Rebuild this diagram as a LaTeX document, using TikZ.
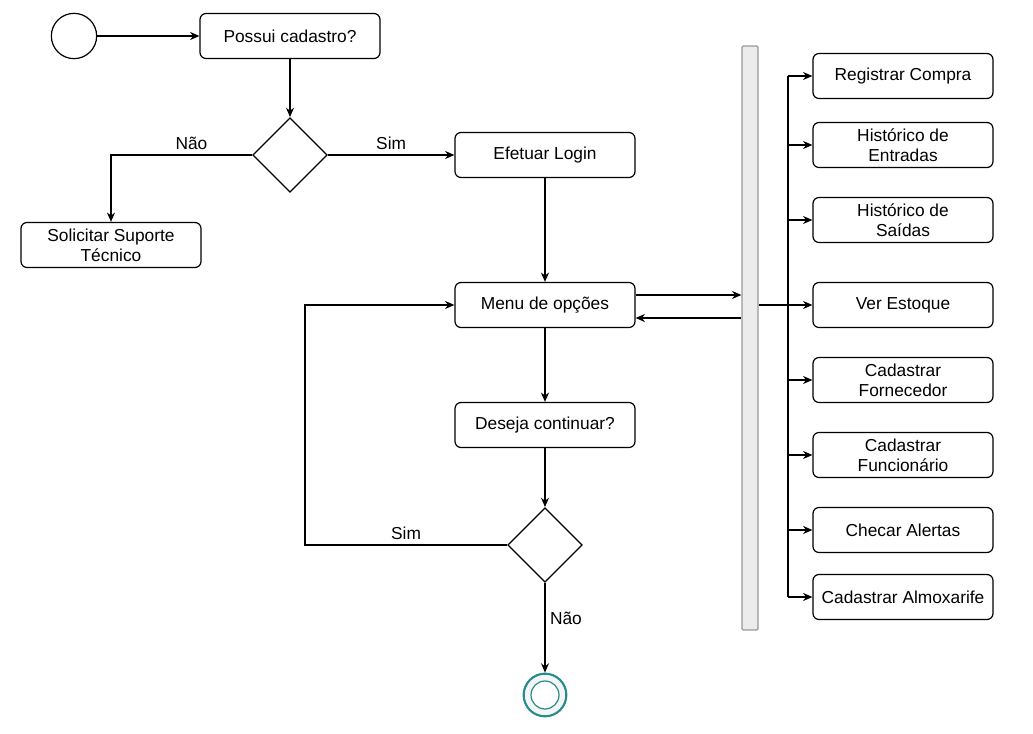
\documentclass[tikz,border=0pt]{standalone}
\usepackage{fontspec}
\setmainfont{Liberation Sans}
\usetikzlibrary{shapes.geometric,arrows.meta}
\definecolor{endteal}{RGB}{38,140,140}

\tikzset{
    acao/.style={draw,rounded corners=4.5pt,minimum width=135pt,minimum height=33.75pt,
        align=center,inner sep=2pt,line width=0.9pt},
    decisao/.style={draw,diamond,aspect=1,minimum width=56pt,minimum height=56pt,
        inner sep=0pt,line width=0.9pt},
    fluxo/.style={line width=0.9pt,-{Stealth[length=7pt,width=6pt]}},
    linha/.style={line width=0.9pt}
}

\begin{document}
\begin{tikzpicture}[x=0.75pt,y=-0.75pt,font=\fontsize{13}{15}\selectfont]
            \useasboundingbox (0,0) rectangle (1033,734);

            % inicio e cadastro
            \node[draw,circle,minimum size=34pt,line width=0.9pt] (inicio) at (74,36) {};
            \node[acao] (cadastro) at (290,36) {Possui cadastro?};
            \node[decisao] (dec1) at (290,155) {};
            \node[acao] (suporte) at (111,245) {Solicitar Suporte\\Técnico};
            \node[acao] (login) at (545,155) {Efetuar Login};

            % menu
            \node[acao] (menu) at (545,305) {Menu de opções};
            \node[acao] (continuar) at (545,425) {Deseja continuar?};
            \node[decisao] (dec2) at (545,545) {};
            \node[circle,draw=endteal,line width=1.6pt,fill=gray!8,minimum size=32pt] (fim) at (545,695) {};
            \node[circle,draw=endteal,line width=0.9pt,fill=white,minimum size=21pt] (fimin) at (fim) {};
            \coordinate (volta) at (305,545);

            % barra e opcoes
            \node[draw=gray!80,fill=gray!15,rounded corners=1pt,minimum width=12pt,minimum height=438pt,
                inner sep=0pt,line width=0.9pt] (barra) at (750,338) {};
            \coordinate (tronco) at (788,305);
            \node[acao] (compra) at (903,76) {Registrar Compra};
            \node[acao] (entradas) at (903,145) {Histórico de\\Entradas};
            \node[acao] (saidas) at (903,220) {Histórico de\\Saídas};
            \node[acao] (estoque) at (903,305) {Ver Estoque};
            \node[acao] (fornecedor) at (903,380) {Cadastrar\\Fornecedor};
            \node[acao] (funcionario) at (903,455) {Cadastrar\\Funcionário};
            \node[acao] (alertas) at (903,530) {Checar Alertas};
            \node[acao] (almoxarife) at (903,597) {Cadastrar Almoxarife};

            \draw[fluxo] (inicio) -- (cadastro);
            \draw[fluxo] (cadastro) -- (dec1);
            \draw[fluxo] (dec1.west) -- node[above,pos=0.43]{Não} (dec1.west -| suporte) -- (suporte);
            \draw[fluxo] (dec1.east) -- node[above]{Sim} (login);
            \draw[fluxo] (login) -- (menu);
            \draw[fluxo] ([yshift=7.5pt]menu.east) -- ([yshift=7.5pt]menu.east -| barra.west);
            \draw[fluxo] ([yshift=-9.75pt]menu.east -| barra.west) -- ([yshift=-9.75pt]menu.east);
            \draw[fluxo] (menu) -- (continuar);
            \draw[fluxo] (continuar) -- (dec2);
            \draw[fluxo] (dec2) -- node[right,pos=0.4]{Não} (fim);
            \draw[fluxo] (dec2.west) -- node[above]{Sim} (volta) |- (menu.west);

            %\draw saidas da barra
            \draw[fluxo] (barra.east |- estoque.west) -- (estoque.west);
            \draw[linha] (tronco |- compra.west) -- (tronco |- almoxarife.west);
            \foreach \op in {compra,entradas,saidas,fornecedor,funcionario,alertas,almoxarife}
                \draw[fluxo] (tronco |- \op.west) -- (\op.west);
\end{tikzpicture}
\end{document}
